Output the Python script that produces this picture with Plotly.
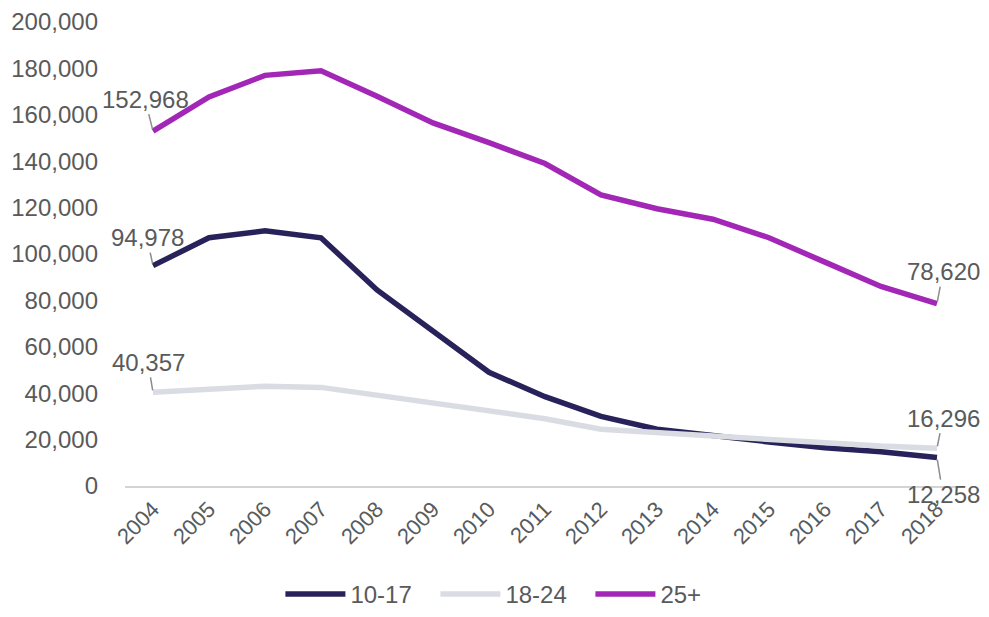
import plotly.graph_objects as go

years = [str(y) for y in range(2004, 2019)]

age_10_17 = [94978, 107000, 110000, 107000, 84500, 67000, 49000, 38500, 30000, 24500,
             21500, 19000, 16500, 14800, 12258]
age_18_24 = [40357, 41500, 43000, 42500, 39000, 36000, 32000, 29000, 24500, 23000,
             21500, 20500, 18700, 17200, 16296]
age_25_plus = [152968, 167700, 177000, 179000, 168000, 156500, 148000, 139000, 125500, 119500,
               115000, 107000, 96500, 86000, 78620]

series = [
    ("10-17", age_10_17, "#27235a"),
    ("18-24", age_18_24, "#d9dce2"),
    ("25+", age_25_plus, "#a227b6"),
]

font_family = "Liberation Sans, Arial, sans-serif"
grey_text = "#5a5a5a"

fig = go.Figure()
for name, vals, col in series:
    fig.add_trace(go.Scatter(x=years, y=vals, mode="lines", name=name,
                             line=dict(color=col, width=5.5)))

# end-point labels with short leader lines (x given as category index)
first, last = 0, len(years) - 1
labels = [
    (first, age_25_plus[0], -8, -32),
    (first, age_10_17[0], -6, -28),
    (first, age_18_24[0], -5, -30),
    (last, age_25_plus[-1], 6, -32),
    (last, age_18_24[-1], 6, -30),
    (last, age_10_17[-1], 6, 37),
]
for x, y, ax, ay in labels:
    fig.add_annotation(x=x, y=y, text=f"{y:,}", showarrow=True, arrowhead=0,
                       arrowwidth=1.5, arrowcolor="#8c8c8c", ax=ax, ay=ay,
                       standoff=2, font=dict(size=24, color=grey_text, family=font_family))

# page body has an 8px margin, so the figure is a bit smaller than the window
fig.update_layout(
    width=981, height=609,
    margin=dict(l=117, r=24, t=14, b=131, autoexpand=False),
    paper_bgcolor="white", plot_bgcolor="white",
    font=dict(family=font_family, size=24, color=grey_text),
    showlegend=True,
    legend=dict(orientation="h", x=0.185, xanchor="left", y=-0.282, yanchor="bottom",
                font=dict(size=24, color=grey_text), traceorder="normal",
                itemwidth=60, entrywidth=80),
)
fig.update_xaxes(type="category", range=[-0.5, len(years) - 0.5], tickangle=-45,
                 showgrid=False, showline=True, linecolor="#d4d4d4", linewidth=1.5,
                 ticks="", zeroline=False, automargin=False,
                 tickfont=dict(size=22, color=grey_text))
fig.update_yaxes(range=[0, 200000], dtick=20000, tickformat=",", showgrid=False,
                 zeroline=False, showline=False, ticks="", ticklabelstandoff=26,
                 automargin=False, tickfont=dict(size=24, color=grey_text))

fig.write_html("out.html")
